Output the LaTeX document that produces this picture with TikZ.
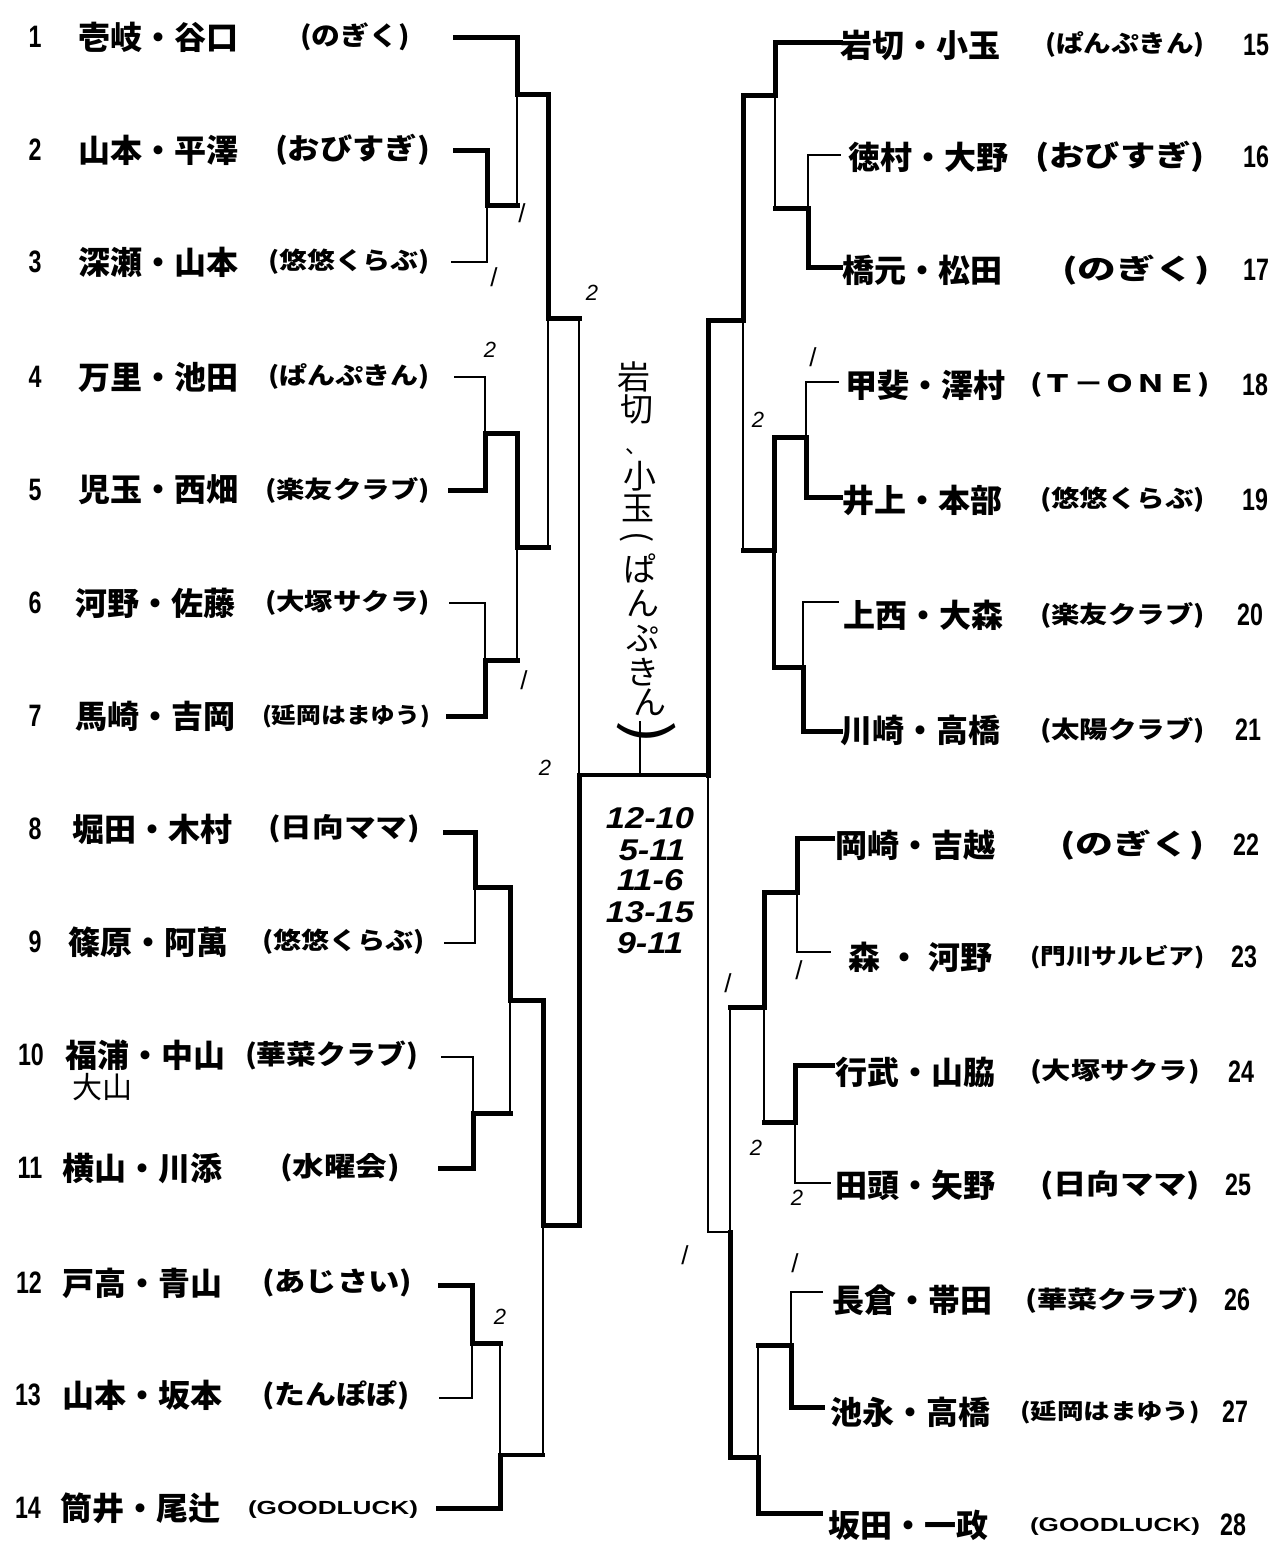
\documentclass[tikz,border=0pt]{standalone}
\usepackage{fontspec}
\usepackage{graphicx}
\newfontfamily\jpf{Noto Sans CJK JP}
\newfontfamily\numf{Liberation Sans}
\newcommand\tm[3]{{\fontsize{#1}{#1}\selectfont\resizebox{#2pt}{\height}{#3}}}
\newcommand\nm[1]{\scalebox{0.75}[1]{#1}}
\newcommand\seg[4]{\draw[#3] (#1) -- (#1 -| #2); \draw[#4] (#1 -| #2) -- (#2);}
\tikzset{
  thk/.style={line width=5pt, line cap=rect},
  thn/.style={line width=2.2pt, line cap=rect},
  mdm/.style={line width=3.5pt, line cap=rect},
  lbl/.style={inner sep=0pt, outer sep=0pt},
  pname/.style={lbl, anchor=west, font=\jpf\bfseries\fontsize{32}{32}\selectfont},
  tname/.style={lbl, anchor=west, font=\jpf\bfseries},
  pnum/.style={lbl, font=\numf\bfseries\fontsize{31}{31}\selectfont},
  hwj/.style={lbl, font=\jpf\fontsize{33}{33}\selectfont},
  hws/.style={lbl, font=\numf\bfseries\itshape\fontsize{30}{30}\selectfont},
  hslash/.style={lbl, font=\numf\fontsize{26}{26}\selectfont},
  htwo/.style={lbl, font=\numf\itshape\fontsize{22}{22}\selectfont},
}
\begin{document}
\begin{tikzpicture}[x=1pt,y=-1pt]
\fill[white] (0,0) rectangle (1283,1548);
\useasboundingbox (0,0) rectangle (1283,1548);

% ---------- left entries ----------
\node[pnum] (n1) at (35,37) {\nm{1}};
\node[pname] (p1) at (78,37) {壱岐・谷口};
\node[tname] (t1) at (300,37) {\tm{26}{110}{(のぎく)}};
\node[pnum] (n2) at (35,150) {\nm{2}};
\node[pname] (p2) at (78,150) {山本・平澤};
\node[tname] (t2) at (275,150) {\tm{29}{155}{(おびすぎ)}};
\node[pnum] (n3) at (35,262) {\nm{3}};
\node[pname] (p3) at (78,262) {深瀬・山本};
\node[tname] (t3) at (268,262) {\tm{24}{162}{(悠悠くらぶ)}};
\node[pnum] (n4) at (35,377) {\nm{4}};
\node[pname] (p4) at (78,377) {万里・池田};
\node[tname] (t4) at (268,377) {\tm{24}{162}{(ぱんぷきん)}};
\node[pnum] (n5) at (35,490) {\nm{5}};
\node[pname] (p5) at (78,490) {児玉・西畑};
\node[tname] (t5) at (265,490) {\tm{24}{165}{(楽友クラブ)}};
\node[pnum] (n6) at (35,603) {\nm{6}};
\node[pname] (p6) at (75,603) {河野・佐藤};
\node[tname] (t6) at (265,603) {\tm{24}{165}{(大塚サクラ)}};
\node[pnum] (n7) at (35,716) {\nm{7}};
\node[pname] (p7) at (75,716) {馬崎・吉岡};
\node[tname] (t7) at (262,716) {\tm{22}{168}{(延岡はまゆう)}};
\node[pnum] (n8) at (35,829) {\nm{8}};
\node[pname] (p8) at (72,829) {堀田・木村};
\node[tname] (t8) at (268,829) {\tm{27}{152}{(日向ママ)}};
\node[pnum] (n9) at (35,942) {\nm{9}};
\node[pname] (p9) at (68,942) {篠原・阿萬};
\node[tname] (t9) at (262,942) {\tm{24}{163}{(悠悠くらぶ)}};
\node[pnum] (n10) at (31,1055) {\nm{10}};
\node[pname] (p10) at (65,1055) {福浦・中山};
\node[tname] (t10) at (245,1055) {\tm{27}{173}{(華菜クラブ)}};
\node[pnum] (n11) at (30,1168) {\nm{11}};
\node[pname] (p11) at (62,1168) {横山・川添};
\node[tname] (t11) at (280,1168) {\tm{27}{120}{(水曜会)}};
\node[pnum] (n12) at (29,1283) {\nm{12}};
\node[pname] (p12) at (62,1283) {戸高・青山};
\node[tname] (t12) at (262,1283) {\tm{27}{150}{(あじさい)}};
\node[pnum] (n13) at (28,1395) {\nm{13}};
\node[pname] (p13) at (62,1395) {山本・坂本};
\node[tname] (t13) at (262,1395) {\tm{27}{148}{(たんぽぽ)}};
\node[pnum] (n14) at (28,1508) {\nm{14}};
\node[pname] (p14) at (60,1508) {筒井・尾辻};
\node[tname] (t14) at (248,1510) {\numf\bfseries\tm{19}{170}{(GOODLUCK)}};

% ---------- right entries ----------
\node[pname] (p15) at (840,45) {岩切・小玉};
\node[tname] (t15) at (1045,45) {\tm{24}{160}{(ぱんぷきん)}};
\node[pnum] (n15) at (1256,45) {\nm{15}};
\node[pname] (p16) at (848,157) {徳村・大野};
\node[tname] (t16) at (1035,157) {\tm{29}{170}{(おびすぎ)}};
\node[pnum] (n16) at (1256,157) {\nm{16}};
\node[pname] (p17) at (842,270) {橋元・松田};
\node[tname] (t17) at (1062,270) {\tm{28}{148}{(のぎく)}};
\node[pnum] (n17) at (1256,270) {\nm{17}};
\node[pname] (p18) at (845,385) {甲斐・澤村};
\node[tname] (t18) at (1030,385) {\tm{24}{180}{(Ｔ－ＯＮＥ)}};
\node[pnum] (n18) at (1255,385) {\nm{18}};
\node[pname] (p19) at (842,500) {井上・本部};
\node[tname] (t19) at (1040,500) {\tm{24}{165}{(悠悠くらぶ)}};
\node[pnum] (n19) at (1255,500) {\nm{19}};
\node[pname] (p20) at (843,615) {上西・大森};
\node[tname] (t20) at (1040,615) {\tm{24}{165}{(楽友クラブ)}};
\node[pnum] (n20) at (1250,615) {\nm{20}};
\node[pname] (p21) at (840,730) {川崎・高橋};
\node[tname] (t21) at (1040,730) {\tm{24}{165}{(太陽クラブ)}};
\node[pnum] (n21) at (1248,730) {\nm{21}};
\node[pname] (p22) at (835,845) {岡崎・吉越};
\node[tname] (t22) at (1060,845) {\tm{28}{145}{(のぎく)}};
\node[pnum] (n22) at (1246,845) {\nm{22}};
\node[pname] (p23) at (848,957) {森\hspace{8pt}・\hspace{8pt}河野};
\node[tname] (t23) at (1030,957) {\tm{22}{175}{(門川サルビア)}};
\node[pnum] (n23) at (1244,957) {\nm{23}};
\node[pname] (p24) at (835,1072) {行武・山脇};
\node[tname] (t24) at (1030,1072) {\tm{24}{170}{(大塚サクラ)}};
\node[pnum] (n24) at (1241,1072) {\nm{24}};
\node[pname] (p25) at (835,1185) {田頭・矢野};
\node[tname] (t25) at (1040,1185) {\tm{28}{160}{(日向ママ)}};
\node[pnum] (n25) at (1238,1185) {\nm{25}};
\node[pname] (p26) at (832,1300) {長倉・帯田};
\node[tname] (t26) at (1025,1300) {\tm{24}{175}{(華菜クラブ)}};
\node[pnum] (n26) at (1237,1300) {\nm{26}};
\node[pname] (p27) at (830,1412) {池永・高橋};
\node[tname] (t27) at (1020,1412) {\tm{22}{180}{(延岡はまゆう)}};
\node[pnum] (n27) at (1235,1412) {\nm{27}};
\node[pname] (p28) at (828,1525) {坂田・一政};
\node[tname] (t28) at (1030,1527) {\numf\bfseries\tm{19}{170}{(GOODLUCK)}};
\node[pnum] (n28) at (1233,1525) {\nm{28}};

% ---------- line start points ----------
\coordinate (e1) at (455,37);   \coordinate (e2) at (455,150);
\coordinate (e3) at (452,262);  \coordinate (e4) at (455,377);
\coordinate (e5) at (450,490);  \coordinate (e6) at (450,603);
\coordinate (e7) at (448,716);  \coordinate (e8) at (445,832);
\coordinate (e9) at (445,943);  \coordinate (e10) at (442,1057);
\coordinate (e11) at (440,1168); \coordinate (e12) at (440,1285);
\coordinate (e13) at (440,1398); \coordinate (e14) at (438,1508);
\coordinate (e15) at (840,42);  \coordinate (e16) at (840,155);
\coordinate (e17) at (840,267); \coordinate (e18) at (838,382);
\coordinate (e19) at (840,497); \coordinate (e20) at (838,602);
\coordinate (e21) at (840,731); \coordinate (e22) at (832,838);
\coordinate (e23) at (830,952); \coordinate (e24) at (832,1065);
\coordinate (e25) at (830,1183); \coordinate (e26) at (822,1292);
\coordinate (e27) at (822,1407); \coordinate (e28) at (820,1513);

% ---------- junctions ----------
\coordinate (a23) at (487,205);  \coordinate (a1) at (517,94);
\coordinate (a45) at (485,433);  \coordinate (a67) at (485,660);
\coordinate (a47) at (517,547);  \coordinate (a17) at (548,318);
\coordinate (a89) at (475,887);  \coordinate (a1011) at (473,1113);
\coordinate (a811) at (510,1000); \coordinate (a1213) at (472,1343);
\coordinate (a1214) at (500,1455); \coordinate (a814) at (543,1225);
\coordinate (fin) at (579,775);
\coordinate (b1617) at (808,208); \coordinate (b15) at (775,95);
\coordinate (b1819) at (806,437); \coordinate (b2021) at (803,667);
\coordinate (b1821) at (774,550); \coordinate (b1521) at (743,320);
\coordinate (b2223) at (797,892); \coordinate (b2425) at (795,1122);
\coordinate (b2225) at (764,1007); \coordinate (b2627) at (791,1345);
\coordinate (b2628) at (758,1457); \coordinate (b2228) at (730,1232);
\coordinate (finR) at (708,775);
\coordinate (champ) at (640,722);

% ---------- left bracket ----------
\seg{e2}{a23}{thk}{thk}
\seg{e3}{a23}{thn}{thn}
\seg{e1}{a1}{thk}{thk}
\seg{a23}{a1}{thk}{thn}
\seg{e4}{a45}{thn}{thn}
\seg{e5}{a45}{thk}{thk}
\seg{e6}{a67}{thn}{thn}
\seg{e7}{a67}{thk}{thk}
\seg{a45}{a47}{thk}{thk}
\seg{a67}{a47}{thk}{thn}
\seg{a1}{a17}{thk}{thk}
\seg{a47}{a17}{thk}{thn}
\seg{a17}{fin}{thk}{thn}
\seg{e8}{a89}{thk}{thk}
\seg{e9}{a89}{thn}{thn}
\seg{e10}{a1011}{thn}{thn}
\seg{e11}{a1011}{thk}{thk}
\seg{a89}{a811}{thk}{thk}
\seg{a1011}{a811}{thk}{thn}
\seg{e12}{a1213}{thk}{thk}
\seg{e13}{a1213}{thn}{thn}
\seg{e14}{a1214}{thk}{thk}
\seg{a1213}{a1214}{thk}{thn}
\seg{a811}{a814}{thk}{thk}
\seg{a1214}{a814}{mdm}{thn}
\seg{a814}{fin}{thk}{thk}

% ---------- final ----------
\draw[mdm] (fin) -- (finR);
\draw[thn] (fin -| champ) -- (champ);

% ---------- right bracket ----------
\seg{e15}{b15}{thk}{thk}
\seg{e16}{b1617}{thn}{thn}
\seg{e17}{b1617}{thk}{thk}
\seg{b1617}{b15}{thk}{thn}
\seg{e18}{b1819}{thn}{thn}
\seg{e19}{b1819}{thk}{thk}
\seg{e20}{b2021}{thn}{thn}
\seg{e21}{b2021}{thk}{thk}
\seg{b1819}{b1821}{thk}{thk}
\seg{b2021}{b1821}{thk}{mdm}
\seg{b15}{b1521}{thk}{thk}
\seg{b1821}{b1521}{thk}{thn}
\seg{b1521}{finR}{thk}{thk}
\seg{e22}{b2223}{thk}{thk}
\seg{e23}{b2223}{thn}{thn}
\seg{e24}{b2425}{thk}{thk}
\seg{e25}{b2425}{thn}{thn}
\seg{b2223}{b2225}{thk}{thk}
\seg{b2425}{b2225}{thk}{thn}
\seg{e26}{b2627}{thn}{thn}
\seg{e27}{b2627}{thk}{thk}
\seg{e28}{b2628}{thk}{thk}
\seg{b2627}{b2628}{thk}{thn}
\seg{b2225}{b2228}{thk}{thn}
\seg{b2628}{b2228}{thk}{thk}
\seg{b2228}{finR}{thn}{thn}

% ---------- handwritten champion (vertical) ----------
\node[hwj] (v1) at (634,377) {岩};
\node[hwj] (v2) at (637,409) {切};
\node[hwj] (v3) at (636,453) {\smash{\fontsize{22}{22}\selectfont 、}};
\node[hwj] (v4) at (640,476) {小};
\node[hwj] (v5) at (638,508) {玉};
\node[hwj] (v6) at (637,537) {\rotatebox{-90}{(}};
\node[hwj] (v7) at (640,568) {ぱ};
\node[hwj] (v8) at (643,603) {ん};
\node[hwj] (v9) at (643,638) {ぷ};
\node[hwj] (v10) at (643,672) {き};
\node[hwj] (v11) at (650,702) {ん};
\node[lbl] (v12) at (647,733) {\jpf\fontsize{58}{58}\selectfont\rotatebox{-90}{\scalebox{1.25}[1]{)}}};

% ---------- handwritten scores ----------
\node[hws] (s1) at (650,818) {\scalebox{1.15}[1]{12-10}};
\node[hws] (s2) at (652,850) {\scalebox{1.15}[1]{5-11}};
\node[hws] (s3) at (650,880) {\scalebox{1.15}[1]{11-6}};
\node[hws] (s4) at (650,912) {\scalebox{1.15}[1]{13-15}};
\node[hws] (s5) at (650,943) {\scalebox{1.15}[1]{9-11}};

% ---------- handwritten marks ----------
\node[hwj, font=\jpf\fontsize{30}{30}\selectfont] (h1) at (102,1087) {大山};
\node[hslash] (m1) at (522,213) {/};
\node[hslash] (m2) at (494,277) {/};
\node[hslash] (m3) at (524,680) {/};
\node[hslash] (m4) at (813,357) {/};
\node[hslash] (m5) at (728,983) {/};
\node[hslash] (m6) at (799,970) {/};
\node[hslash] (m7) at (685,1255) {/};
\node[hslash] (m8) at (795,1263) {/};
\node[htwo] (k1) at (592,293) {2};
\node[htwo] (k2) at (490,350) {2};
\node[htwo] (k3) at (500,1317) {2};
\node[htwo] (k4) at (758,420) {2};
\node[htwo] (k5) at (756,1148) {2};
\node[htwo] (k6) at (797,1198) {2};
\node[htwo] (k7) at (545,768) {2};
\end{tikzpicture}
\end{document}
